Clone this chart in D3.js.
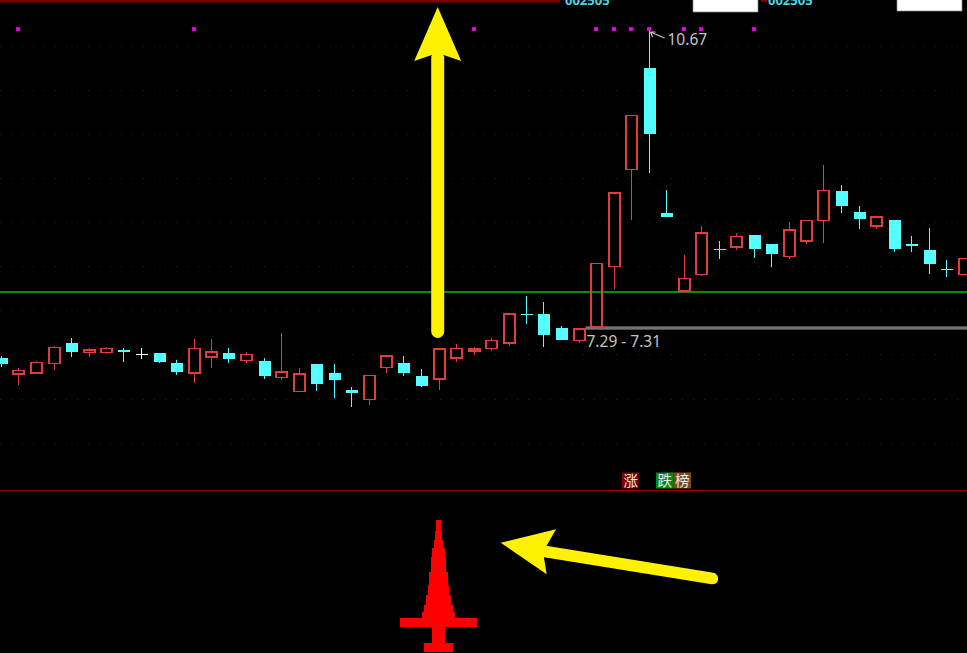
<!DOCTYPE html>
<html><head><meta charset="utf-8">
<script src="https://cdn.jsdelivr.net/npm/d3@7/dist/d3.min.js"></script>
<style>html,body{margin:0;padding:0;background:#000;overflow:hidden}</style>
</head><body>
<svg id="c" width="967" height="653"></svg>
<script>
// ---- data ----
const opens  = [6.96,6.78,6.79,6.90,7.13,7.02,7.02,7.05,7.01,7.02,6.90,6.79,6.97,7.02,6.93,6.93,6.74,6.58,6.89,6.79,6.60,6.49,6.85,6.90,6.75,6.72,6.96,7.04,7.07,7.13,7.46,7.46,7.30,7.16,7.31,8.00,9.10,10.25,8.61,7.72,7.91,8.20,8.22,8.36,8.25,8.11,8.29,8.52,8.85,8.62,8.46,8.53,8.25,8.19,7.97,7.91];
const highs  = [6.98,6.85,6.93,7.10,7.19,7.07,7.08,7.07,7.07,7.02,6.94,7.18,7.18,7.07,7.03,6.96,7.24,6.85,6.89,6.89,6.63,6.76,6.98,6.98,6.83,7.06,7.12,7.09,7.19,7.46,7.66,7.60,7.32,7.29,8.03,8.83,9.71,10.67,8.87,8.13,8.46,8.29,8.38,8.36,8.25,8.50,8.52,9.15,8.92,8.68,8.56,8.53,8.34,8.44,8.07,8.09];
const lows   = [6.86,6.65,6.79,6.82,6.97,6.97,7.01,6.92,6.95,6.90,6.77,6.68,6.85,6.90,6.90,6.72,6.71,6.58,6.58,6.51,6.40,6.43,6.79,6.76,6.63,6.60,6.92,6.99,7.04,7.10,7.35,7.08,7.16,7.13,7.31,7.74,8.53,9.06,8.56,7.70,7.89,8.08,8.19,8.10,7.99,8.08,8.25,8.27,8.61,8.42,8.42,8.16,8.16,7.91,7.88,7.91];
const closes = [6.89,6.82,6.91,7.08,7.03,7.05,7.07,7.04,7.01,6.91,6.80,7.07,7.03,6.95,7.00,6.75,6.80,6.78,6.66,6.71,6.56,6.76,6.98,6.79,6.64,7.06,7.07,7.06,7.16,7.46,7.45,7.22,7.16,7.29,8.03,8.83,9.71,9.50,8.56,7.86,8.38,8.19,8.34,8.20,8.14,8.41,8.52,8.86,8.69,8.54,8.56,8.20,8.24,8.03,7.96,8.09];
const signalBars = [1,11,27,34,35,36,37,39,40,43];
const gridPrices = [6.0,6.5,7.0,7.5,8.0,8.5,9.0,9.5,10.0,10.5];
const refPrice = 7.72;
const gapLow = 7.29, gapHigh = 7.31, gapFrom = 33;
const maxIdx = 37, maxPrice = 10.67;
const codeLabel = "002505";
const tagTexts = ["涨","跌","榜"];
// pyramid indicator (lower pane): layer boundaries and widths (in bar units)
const pyrLevels = [132,121,112,104,95,80,67,57,47,40,34,25,9,0];
const pyrWidths = [0.23,0.40,0.57,0.71,0.86,1.09,1.23,1.43,1.66,1.83,4.40,0.77,1.66];
const pyrBar = 25;

// ---- scales ----
const W = 967, H = 653;
const svg = d3.select("#c");
svg.append("rect").attr("width",W).attr("height",H).attr("fill","#000");
const x = d3.scaleLinear().domain([0,55]).range([1,963.5]);
const step = x(1)-x(0);
const bw = 12;
const y = d3.scaleLinear().domain([5.462,11.022]).range([490,0]);
const y2 = d3.scaleLinear().domain([0,160]).range([652,492]);

// ---- grid (faint dotted) ----
svg.append("g").selectAll("line").data(gridPrices).join("line")
  .attr("x1",0).attr("x2",W).attr("y1",d=>Math.round(y(d))+0.5).attr("y2",d=>Math.round(y(d))+0.5)
  .attr("stroke","#1f1f1f").attr("stroke-width",1).attr("stroke-dasharray","1,10");

// top border lines
svg.append("rect").attr("x",0).attr("y",0).attr("width",560).attr("height",2.5).attr("fill","#7a0000");
svg.append("rect").attr("x",761).attr("y",0).attr("width",6).attr("height",2).attr("fill","#7a0000");
svg.append("text").attr("x",565).attr("y",4.5).text(codeLabel)
  .attr("fill","#4ad7e0").attr("font-family","Noto Sans, sans-serif").attr("font-weight","bold").attr("font-size",13);
svg.append("text").attr("x",768).attr("y",4.5).text(codeLabel)
  .attr("fill","#4ad7e0").attr("font-family","Noto Sans, sans-serif").attr("font-weight","bold").attr("font-size",13);
svg.append("rect").attr("x",693).attr("y",-1).attr("width",65).attr("height",13).attr("fill","#fff").attr("stroke","#888").attr("stroke-width",0.7);
svg.append("rect").attr("x",897).attr("y",-1).attr("width",65).attr("height",12).attr("fill","#fff").attr("stroke","#888").attr("stroke-width",0.7);

// reference line (green)
svg.append("rect").attr("x",0).attr("width",W).attr("y",Math.round(y(refPrice))).attr("height",1.5)
  .attr("fill","#0c8a0c").attr("shape-rendering","crispEdges");
// pane divider
svg.append("line").attr("x1",0).attr("x2",W).attr("y1",490.5).attr("y2",490.5).attr("stroke","#a00000").attr("stroke-width",1.2);

// gap lines
const gx = x(gapFrom)+bw/2+1;
[gapLow,gapHigh].forEach(p=>{
  svg.append("line").attr("x1",gx).attr("x2",W).attr("y1",y(p)).attr("y2",y(p)).attr("stroke","#9a9a9a").attr("stroke-width",1.1);
});
svg.append("text").attr("x",x(gapFrom)+8).attr("y",y((gapLow+gapHigh)/2)+19)
  .text(gapLow.toFixed(2)+" - "+gapHigh.toFixed(2))
  .attr("fill","#c4c4c4").attr("font-family","Noto Sans, sans-serif").attr("font-size",15.5);

// ---- candles ----
const RED="#e03c3c", CYAN="#54ffff", WHITE="#ffffff";
const g = svg.append("g").attr("shape-rendering","crispEdges");
opens.forEach((o,i)=>{
  const c = closes[i], h = highs[i], l = lows[i];
  const cx = Math.round(x(i));
  const up = c > o, flat = c === o;
  const col = flat ? WHITE : (up ? RED : CYAN);
  const top = y(Math.max(o,c)), bot = y(Math.min(o,c));
  if (up) {
    g.append("line").attr("x1",cx+0.5).attr("x2",cx+0.5).attr("y1",y(h)).attr("y2",top).attr("stroke",col);
    g.append("line").attr("x1",cx+0.5).attr("x2",cx+0.5).attr("y1",bot).attr("y2",y(l)).attr("stroke",col);
    g.append("rect").attr("x",cx-bw/2+1).attr("y",top).attr("width",bw-1).attr("height",Math.max(1,bot-top))
      .attr("fill","none").attr("stroke",col).attr("stroke-width",1.5);
  } else {
    g.append("line").attr("x1",cx+0.5).attr("x2",cx+0.5).attr("y1",y(h)).attr("y2",y(l)).attr("stroke",col);
    g.append("rect").attr("x",cx-bw/2+0.5).attr("y",top).attr("width",bw).attr("height",Math.max(1.5,bot-top))
      .attr("fill",col);
  }
});

// signal dots
svg.append("g").selectAll("rect").data(signalBars).join("rect")
  .attr("x",d=>Math.round(x(d))-2).attr("y",y(10.692)-2).attr("width",4).attr("height",4).attr("fill","#e000e0");

// max label
const mx = x(maxIdx)+1, my = y(maxPrice);
svg.append("path").attr("d",`M${mx+15},${my+7} L${mx+1},${my+1} M${mx+1},${my+1} L${mx+6},${my+1} M${mx+1},${my+1} L${mx+3},${my+6}`)
  .attr("stroke","#c4c4c4").attr("stroke-width",1.2).attr("fill","none");
svg.append("text").attr("x",mx+18).attr("y",my+14).text(maxPrice.toFixed(2))
  .attr("fill","#c4c4c4").attr("font-family","Noto Sans, sans-serif").attr("font-size",15.5);

// tags 涨 跌 榜
const tagX = [622,656,673.5], tagBg = ["#800000","#0a8a0a","#7a4a1c"];
tagTexts.forEach((t,k)=>{
  svg.append("rect").attr("x",tagX[k]).attr("y",472.5).attr("width",k===0?16.5:17.5).attr("height",16).attr("fill",tagBg[k]);
  svg.append("text").attr("x",tagX[k]+1.5).attr("y",486).text(t).attr("fill","#e8e8e8")
    .attr("font-family","Noto Sans CJK SC, sans-serif").attr("font-size",14.5);
});

// ---- pyramid indicator ----
const pg = svg.append("g").attr("shape-rendering","crispEdges");
pyrWidths.forEach((w,k)=>{
  const ww = w*step;
  pg.append("rect").attr("x",x(pyrBar)-ww/2).attr("y",y2(pyrLevels[k])).attr("width",ww)
    .attr("height",y2(pyrLevels[k+1])-y2(pyrLevels[k])).attr("fill","#ff0000");
});

// ---- yellow arrows ----
const YEL="#fff200";
const ax = x(pyrBar)-0.8;
svg.append("line").attr("x1",ax).attr("x2",ax).attr("y1",58).attr("y2",331.5)
  .attr("stroke",YEL).attr("stroke-width",13).attr("stroke-linecap","round");
svg.append("path").attr("d",`M${ax},7 L${ax+23.5},61 L${ax+6},55 L${ax-6},55 L${ax-23.5},61 Z`).attr("fill",YEL);
svg.append("line").attr("x1",712.5).attr("y1",578.5).attr("x2",542).attr("y2",551)
  .attr("stroke",YEL).attr("stroke-width",11.5).attr("stroke-linecap","round");
svg.append("path").attr("d","M500.7,542.7 L556,529.3 L543,552 L546.7,574.3 Z").attr("fill",YEL);
</script>
</body></html>
